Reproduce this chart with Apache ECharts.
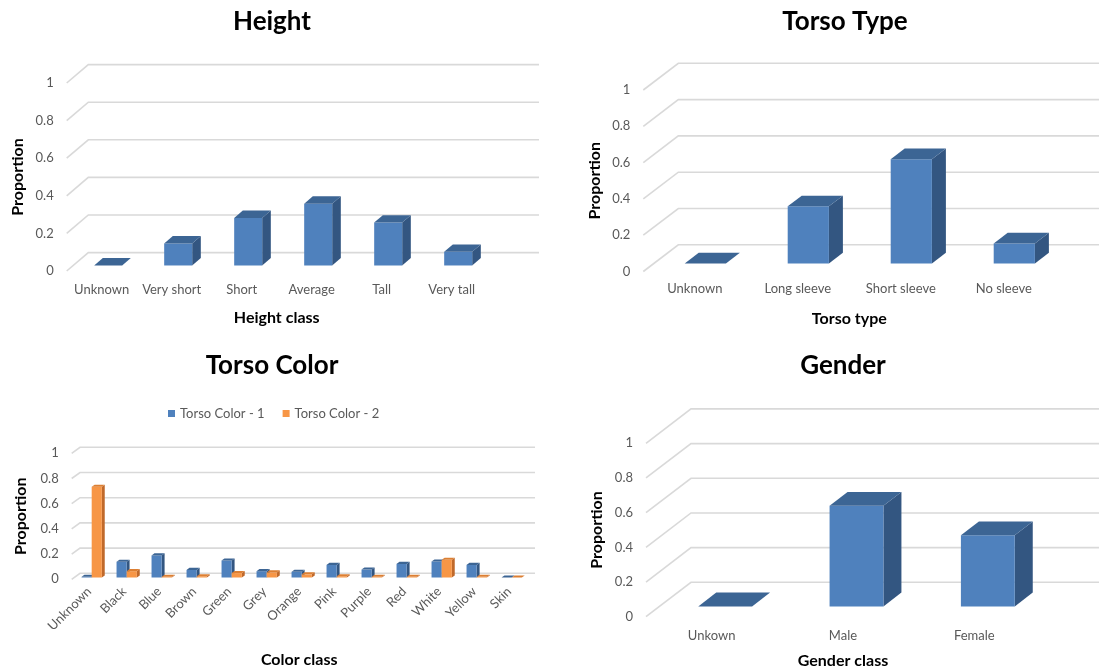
<!DOCTYPE html>
<html>
<head>
<meta charset="utf-8">
<title>Attribute distributions</title>
<script src="https://cdn.jsdelivr.net/npm/echarts@6/dist/echarts.min.js"></script>
<style>
  html, body { margin: 0; padding: 0; background: #ffffff; }
  #main { width: 1099px; height: 670px; }
</style>
</head>
<body>
<div id="main"></div>
<script>
// ---- data ----
const proportionTicks = [0, 0.2, 0.4, 0.6, 0.8, 1];

const heightClasses = ['Unknown', 'Very short', 'Short', 'Average', 'Tall', 'Very tall'];
const heightValues = [0, 0.117, 0.253, 0.329, 0.228, 0.073];

const torsoTypes = ['Unknown', 'Long sleeve', 'Short sleeve', 'No sleeve'];
const torsoTypeValues = [0, 0.315, 0.575, 0.11];

const colorClasses = ['Unknown', 'Black', 'Blue', 'Brown', 'Green', 'Grey', 'Orange',
  'Pink', 'Purple', 'Red', 'White', 'Yellow', 'Skin'];
const torsoColor1 = [0.005, 0.125, 0.175, 0.06, 0.135, 0.05, 0.045, 0.1, 0.063, 0.108, 0.127, 0.1, 0];
const torsoColor2 = [0.72, 0.05, 0.006, 0.01, 0.035, 0.04, 0.025, 0.01, 0.005, 0.005, 0.14, 0.005, 0];

const genderClasses = ['Unkown', 'Male', 'Female'];
const genderValues = [0, 0.58, 0.41];

// ---- styling ----
const FONT = 'Lato, "Liberation Sans", sans-serif';
const GRAY = '#595959';
const GRID_LINE = '#d9d9d9';
const BLUE = { front: '#4f81bd', top: '#3c6594', side: '#335681' };
const ORANGE = { front: '#f79646', top: '#dc7f33', side: '#c0692a' };

// 3D projection of each panel: depth vector of the floor (px) and right end of the back wall
const panels = [
  { left: 66.7, top: 83, width: 420, height: 188, dx: 21.6, dy: -18.4, wallRight: 539 },   // Height
  { left: 643.3, top: 90, width: 412, height: 181.5, dx: 35, dy: -26.7, wallRight: 1099 }, // Torso Type
  { left: 71.7, top: 453.3, width: 455, height: 126, dx: 8.3, dy: -6, wallRight: 535 },    // Torso Color
  { left: 646, top: 443.3, width: 394, height: 173.4, dx: 45, dy: -34.4, wallRight: 1099 } // Gender
];

function toPoints(values) { return values.map((v, i) => [i, v]); }

// back wall gridlines plus the diagonal floor/wall edges at each tick
function wallRenderer(p) {
  return function (params, api) {
    const cs = params.coordSys;
    const y = api.coord([0, api.value(1)])[1];
    const xL = cs.x;
    return {
      type: 'polyline',
      silent: true,
      shape: { points: [[xL, y], [xL + p.dx, y + p.dy], [p.wallRight, y + p.dy]] },
      style: { stroke: GRID_LINE, lineWidth: 1.6, fill: null }
    };
  };
}

// a 3D column: front face, top face and right side face
function boxRenderer(p, colors, widthRatio, shift, front, thick) {
  return function (params, api) {
    const i = api.value(0);
    const v = api.value(1);
    const base = api.coord([i, 0]);
    const topPt = api.coord([i, v]);
    const band = api.size([1, 0])[0];
    const w = band * widthRatio;
    const ox = p.dx * front, oy = p.dy * front;
    const ddx = p.dx * thick, ddy = p.dy * thick;
    const x0 = base[0] + shift * w - w / 2 + ox;
    const x1 = x0 + w;
    const yb = base[1] + oy;
    const yt = topPt[1] + oy;
    return {
      type: 'group',
      children: [
        { type: 'polygon', shape: { points: [[x1, yt], [x1 + ddx, yt + ddy], [x1 + ddx, yb + ddy], [x1, yb]] },
          style: { fill: colors.side } },
        { type: 'polygon', shape: { points: [[x0, yt], [x1, yt], [x1, yb], [x0, yb]] },
          style: { fill: colors.front } },
        { type: 'polygon', shape: { points: [[x0, yt], [x1, yt], [x1 + ddx, yt + ddy], [x0 + ddx, yt + ddy]] },
          style: { fill: colors.top } }
      ]
    };
  };
}

const categorySets = [heightClasses, torsoTypes, colorClasses, genderClasses];
const xNames = ['Height class', 'Torso type', 'Color class', 'Gender class'];
const xNameGaps = [39, 39, 73, 36];
const yNameGaps = [41, 40, 43, 41];
const labelMargins = [12, 11, 10, 13];

const grids = panels.map(p => ({ left: p.left, top: p.top, width: p.width, height: p.height }));

const xAxes = categorySets.map((cats, k) => ({
  type: 'category',
  gridIndex: k,
  data: cats,
  boundaryGap: true,
  axisLine: { show: false },
  axisTick: { show: false },
  axisLabel: {
    color: GRAY, fontFamily: FONT, fontSize: 13, margin: labelMargins[k],
    interval: 0, rotate: k === 2 ? 45 : 0
  },
  name: xNames[k],
  nameLocation: 'middle',
  nameGap: xNameGaps[k],
  nameTextStyle: { color: '#000', fontFamily: FONT, fontSize: 16, fontWeight: 'bold' }
}));

const yAxes = panels.map((p, k) => ({
  type: 'value',
  gridIndex: k,
  min: 0, max: 1, interval: 0.2,
  axisLine: { show: false },
  axisTick: { show: false },
  splitLine: { show: false },
  axisLabel: { color: GRAY, fontFamily: FONT, fontSize: 13, margin: 13 },
  name: 'Proportion',
  nameLocation: 'middle',
  nameGap: yNameGaps[k],
  nameTextStyle: { color: '#000', fontFamily: FONT, fontSize: 16, fontWeight: 'bold' }
}));

const series = [];
panels.forEach((p, k) => {
  series.push({
    type: 'custom', xAxisIndex: k, yAxisIndex: k, z: 1, silent: true,
    renderItem: wallRenderer(p),
    data: proportionTicks.map(t => [0, t])
  });
});
series.push({
  type: 'custom', name: 'Height', xAxisIndex: 0, yAxisIndex: 0, z: 3,
  renderItem: boxRenderer(panels[0], BLUE, 0.4, 0, 0.3, 0.4),
  data: toPoints(heightValues)
});
series.push({
  type: 'custom', name: 'Torso type', xAxisIndex: 1, yAxisIndex: 1, z: 3,
  renderItem: boxRenderer(panels[1], BLUE, 0.4, 0, 0.3, 0.4),
  data: toPoints(torsoTypeValues)
});
series.push({
  type: 'custom', name: 'Torso Color - 1', xAxisIndex: 2, yAxisIndex: 2, z: 3,
  itemStyle: { color: BLUE.front },
  renderItem: boxRenderer(panels[2], BLUE, 0.29, -0.5, 0.3, 0.35),
  data: toPoints(torsoColor1)
});
series.push({
  type: 'custom', name: 'Torso Color - 2', xAxisIndex: 2, yAxisIndex: 2, z: 4,
  itemStyle: { color: ORANGE.front },
  renderItem: boxRenderer(panels[2], ORANGE, 0.29, 0.5, 0.3, 0.35),
  data: toPoints(torsoColor2)
});
series.push({
  type: 'custom', name: 'Gender', xAxisIndex: 3, yAxisIndex: 3, z: 3,
  renderItem: boxRenderer(panels[3], BLUE, 0.41, 0, 0.3, 0.4),
  data: toPoints(genderValues)
});

const titles = [
  { text: 'Height', x: 272, y: 22 },
  { text: 'Torso Type', x: 845, y: 22 },
  { text: 'Torso Color', x: 272, y: 366 },
  { text: 'Gender', x: 843, y: 366 }
];

const chart = echarts.init(document.getElementById('main'), null, { renderer: 'canvas' });
chart.setOption({
  backgroundColor: '#ffffff',
  animation: false,
  grid: grids,
  xAxis: xAxes,
  yAxis: yAxes,
  legend: {
    data: ['Torso Color - 1', 'Torso Color - 2'],
    left: 163, top: 402,
    icon: 'rect', itemWidth: 7, itemHeight: 7, itemGap: 18,
    textStyle: { color: GRAY, fontFamily: FONT, fontSize: 13 },
    selectedMode: false
  },
  graphic: titles.map(t => ({
    type: 'text', x: t.x, y: t.y, silent: true,
    style: {
      text: t.text, fill: '#000', font: 'bold 26px ' + FONT,
      align: 'center', verticalAlign: 'middle'
    }
  })),
  series: series
});
</script>
</body>
</html>
